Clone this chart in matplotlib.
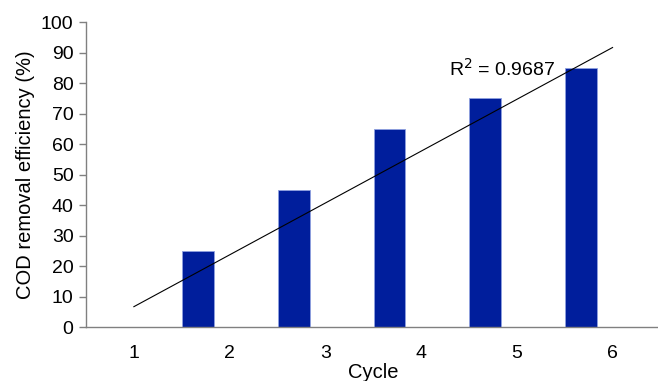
import matplotlib

matplotlib.use("Agg")
import matplotlib.pyplot as plt
import numpy as np

plt.rcParams["font.family"] = ["Liberation Sans", "DejaVu Sans"]

cycles = [1, 2, 3, 4, 5, 6]
cod_removal = [0, 25, 45, 65, 75, 85]
y_ticks = list(range(0, 101, 10))

# least-squares trendline over the cycles
x = np.array(cycles, dtype=float)
y = np.array(cod_removal, dtype=float)
slope, intercept = np.polyfit(x, y, 1)
fit = slope * x + intercept
r2 = 1 - np.sum((y - fit) ** 2) / np.sum((y - y.mean()) ** 2)

fig = plt.figure(figsize=(6.58, 3.81), dpi=100)
ax = fig.add_axes([0.1307, 0.1417, 0.873, 0.8003])

bar_w = 0.33
ax.bar(x - bar_w, y, width=bar_w, color="#001e9c", edgecolor="#8fa0e0",
       linewidth=0.6, zorder=2)
ax.plot(x, fit, color="black", linewidth=0.8, zorder=3)
ax.text(4.29, 82.5, f"R$^2$ = {r2:.4f}", fontsize=14, ha="left",
        va="baseline", zorder=4)

ax.set_xlim(0.5, 6.5)
ax.set_ylim(0, 100)
ax.set_xticks(cycles)
ax.set_xticklabels([str(c) for c in cycles])
ax.set_yticks(y_ticks)
ax.tick_params(axis="x", length=0, pad=13, labelsize=14)
ax.tick_params(axis="y", length=5, width=1, color="#808080",
               direction="out", pad=4, labelsize=14)

for side in ("top", "right"):
    ax.spines[side].set_visible(False)
for side in ("left", "bottom"):
    ax.spines[side].set_color("#808080")
    ax.spines[side].set_linewidth(1)

ax.set_xlabel("Cycle", fontsize=14.5, labelpad=1)
ax.set_ylabel("COD removal efficiency (%)", fontsize=14.5, labelpad=4)

fig.savefig("out.png", dpi=100)
